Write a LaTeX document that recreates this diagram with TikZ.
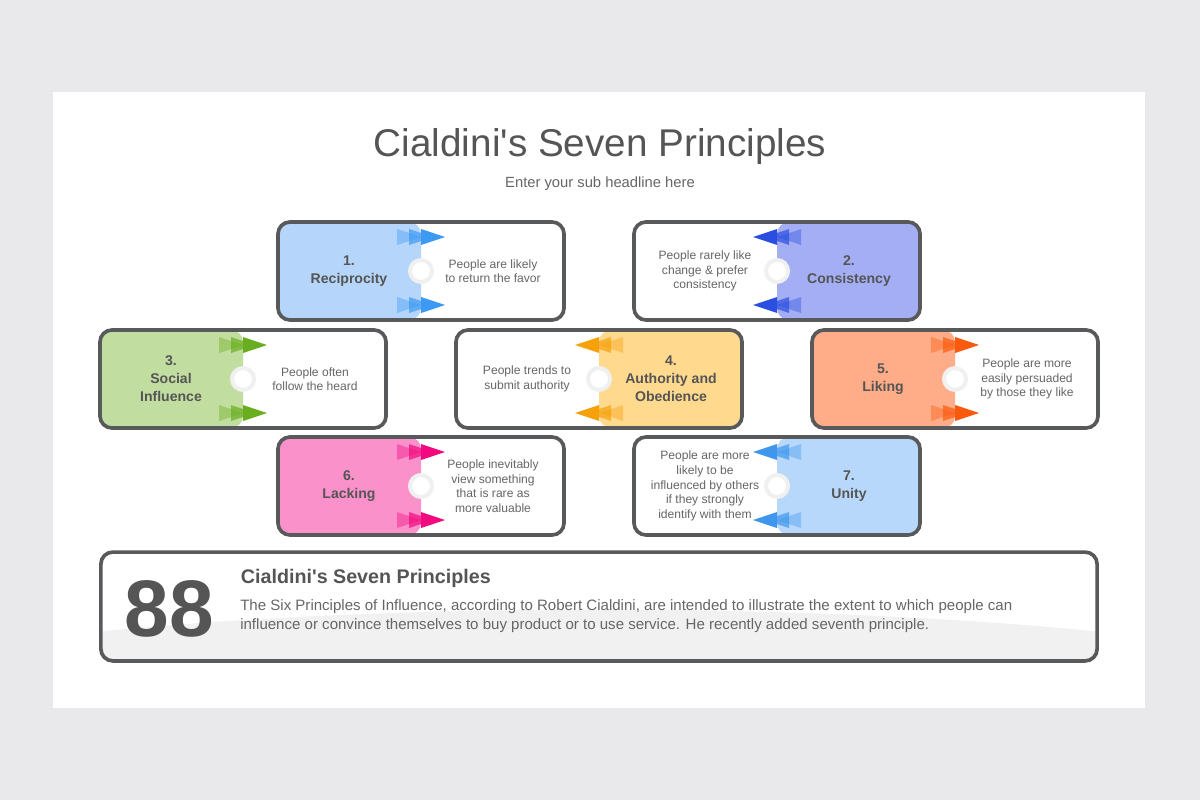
\documentclass[tikz,border=0pt]{standalone}
\usepackage{fontspec}
\setmainfont{Liberation Sans}
\definecolor{pagebg}{HTML}{E9E8EA}
\definecolor{edge}{HTML}{58595B}
\definecolor{headc}{HTML}{555555}
\definecolor{textc}{HTML}{666666}
\definecolor{swoosh}{HTML}{F1F1F1}
\definecolor{recipfill}{HTML}{B5D5FB}
\definecolor{reciparrow}{HTML}{3C9AF2}
\definecolor{consfill}{HTML}{A3AEF4}
\definecolor{consarrow}{HTML}{2A4FE0}
\definecolor{socfill}{HTML}{C2DDA0}
\definecolor{socarrow}{HTML}{68AE1F}
\definecolor{authfill}{HTML}{FFD98E}
\definecolor{autharrow}{HTML}{F6A10A}
\definecolor{likefill}{HTML}{FFAC88}
\definecolor{likearrow}{HTML}{FA5A0D}
\definecolor{lackfill}{HTML}{FB91CB}
\definecolor{lackarrow}{HTML}{F2087F}
\definecolor{unityfill}{HTML}{B8D8FB}
\definecolor{unityarrow}{HTML}{3E97EC}
\begin{document}
\begin{tikzpicture}[x=0.025cm,y=-0.025cm,
    card/.style={draw=edge,line width=2.6pt,rounded corners=0.3cm,fill=white,
        minimum width=7.15cm,minimum height=2.45cm,inner sep=0pt},
    head/.style={font=\bfseries\fontsize{10}{12.8}\selectfont,text=headc,align=center},
    desc/.style={font=\fontsize{8.6}{10.4}\selectfont,text=textc,align=center},
    dot/.style={circle,fill=white,draw=black!6,line width=0.1cm,minimum size=0.55cm,inner sep=0pt}]
\useasboundingbox (0,0) rectangle (1200,800);
\fill[pagebg] (0,0) rectangle (1200,800);
\fill[white] (53,92) rectangle (1145,708);

\node[anchor=base,text=headc,font=\fontsize{27.5}{33}\selectfont] (title) at (600,157) {Cialdini\textquotesingle s Seven Principles};
\node[anchor=base,text=textc,font=\fontsize{10.5}{12}\selectfont] (subtitle) at (600,188) {Enter your sub headline here};

% cards: number/x/y/direction/fill/arrows/coloured side/title/text
\foreach \i/\x/\y/\dir/\fillc/\arrc/\side/\ttl/\txt in {
    1/421/271/1/recipfill/reciparrow/west/{1.\\Reciprocity}/{People are likely\\to return the favor},
    2/777/271/-1/consfill/consarrow/east/{2.\\Consistency}/{People rarely like\\change \& prefer\\consistency},
    3/243/379/1/socfill/socarrow/west/{3.\\Social\\Influence}/{People often\\follow the heard},
    4/599/379/-1/authfill/autharrow/east/{4.\\Authority and\\Obedience}/{People trends to\\submit authority},
    5/955/379/1/likefill/likearrow/west/{5.\\Liking}/{People are more\\easily persuaded\\by those they like},
    6/421/486/1/lackfill/lackarrow/west/{6.\\Lacking}/{People inevitably\\view something\\that is rare as\\more valuable},
    7/777/486/-1/unityfill/unityarrow/east/{7.\\Unity}/{People are more\\likely to be\\influenced by others\\if they strongly\\identify with them}}
{
    \node[card,path picture={\fill[\fillc] (path picture bounding box.north \side) rectangle (path picture bounding box.south);}] (c\i) at (\x,\y) {};
    \foreach \k/\o in {0/0.4,1/0.7,2/1}
        \foreach \yy in {-34,34}
            \fill[\arrc,opacity=\o] ({\x+(\dir)*(12*\k-24)},{\y+\yy-8}) -- ({\x+(\dir)*12*\k},{\y+\yy}) -- ({\x+(\dir)*(12*\k-24)},{\y+\yy+8}) -- cycle;
    \node[dot] (d\i) at (\x,\y) {};
    \node[head] (h\i) at ({\x-(\dir)*72},\y) {\ttl};
    \node[desc] (t\i) at ({\x+(\dir)*72},\y) {\txt};
}

% summary
\node[card,minimum width=24.9cm,minimum height=2.72cm,path picture={\fill[swoosh] ([yshift=-1.22cm]path picture bounding box.south) ellipse [x radius=20cm,y radius=2.5cm];}] (sumbox) at (599,606.5) {};
\node[anchor=base west,text=headc,font=\bfseries\fontsize{57}{60}\selectfont] (num) at (120,636) {88};
\node[anchor=base west,text=headc,font=\bfseries\fontsize{14}{17}\selectfont] (sumtitle) at (236,583) {Cialdini\textquotesingle s Seven Principles};
\node[anchor=north west,inner sep=0pt,align=left,text=textc,font=\fontsize{10.7}{13.8}\selectfont] (sumtext) at (240,599) {The Six Principles of Influence, according to Robert Cialdini, are intended to illustrate the extent to which people can\\influence or convince themselves to buy product or to use service. He recently added seventh principle.};
\end{tikzpicture}
\end{document}
